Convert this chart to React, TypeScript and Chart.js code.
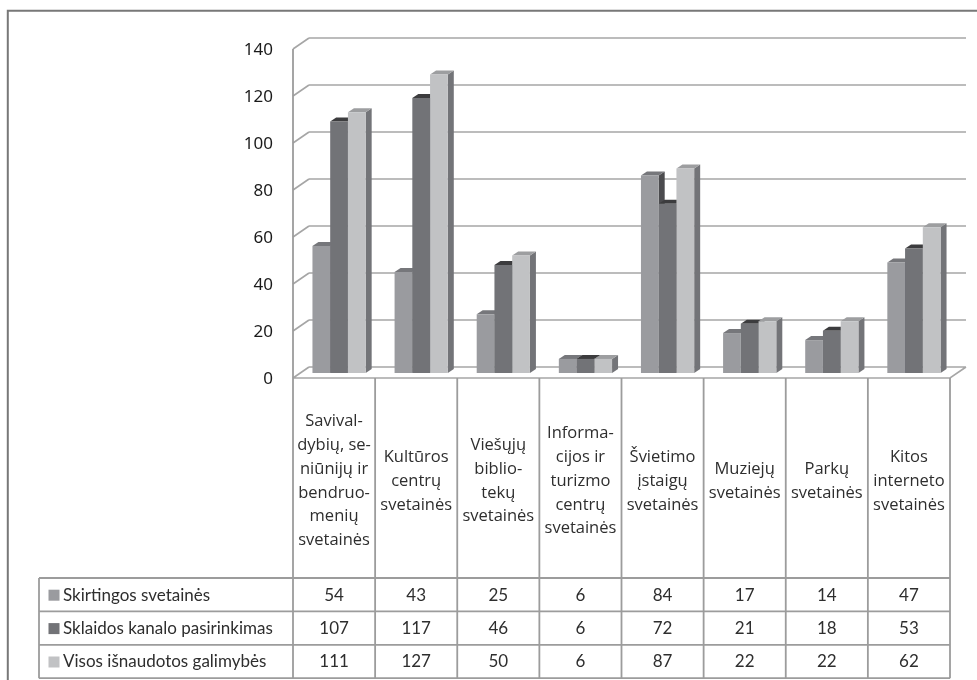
import React, { useEffect, useRef } from 'react';
import { Chart, registerables } from 'chart.js';

Chart.register(...registerables);

const categories: string[][] = [
  ['Savival-', 'dybių, se-', 'niūnijų ir', 'bendruo-', 'menių', 'svetainės'],
  ['Kultūros', 'centrų', 'svetainės'],
  ['Viešųjų', 'biblio-', 'tekų', 'svetainės'],
  ['Informa-', 'cijos ir', 'turizmo', 'centrų', 'svetainės'],
  ['Švietimo', 'įstaigų', 'svetainės'],
  ['Muziejų', 'svetainės'],
  ['Parkų', 'svetainės'],
  ['Kitos', 'interneto', 'svetainės'],
];

const seriesNames = ['Skirtingos svetainės', 'Sklaidos kanalo pasirinkimas', 'Visos išnaudotos galimybės'];
const skirtingos = [54, 43, 25, 6, 84, 17, 14, 47];
const sklaidos = [107, 117, 46, 6, 72, 21, 18, 53];
const visos = [111, 127, 50, 6, 87, 22, 22, 62];
const yTickValues = [0, 20, 40, 60, 80, 100, 120, 140];

const frontColors = ['#9a9b9f', '#727377', '#c1c2c4'];
const topColors = ['#76777b', '#3c3c3e', '#9d9ea0'];
const sideColors = ['#4b4b4e', '#48484b', '#737478'];

// 3D offsets (pixels)
const BAR_DX = 6;
const BAR_DY = 4;
const BACK_DX = 11;
const BACK_DY = -6;
const FRONT_DX = -5;
const FRONT_DY = 5;

const wallPlugin = {
  id: 'walls3d',
  beforeDatasetsDraw(chart: any) {
    const { ctx, chartArea: ca } = chart;
    const ys = chart.scales.y;
    ctx.save();
    ctx.strokeStyle = '#a6a6a6';
    ctx.lineWidth = 1.6;
    ctx.beginPath();
    for (const v of yTickValues) {
      const py = ys.getPixelForValue(v);
      ctx.moveTo(ca.left + BACK_DX, py + BACK_DY);
      ctx.lineTo(ca.right + BACK_DX, py + BACK_DY);
      ctx.moveTo(ca.left + FRONT_DX, py + FRONT_DY);
      ctx.lineTo(ca.left + BACK_DX, py + BACK_DY);
    }
    const base = ys.getPixelForValue(0);
    ctx.moveTo(ca.left + FRONT_DX, base + FRONT_DY);
    ctx.lineTo(ca.right + FRONT_DX, base + FRONT_DY);
    ctx.lineTo(ca.right + BACK_DX, base + BACK_DY);
    ctx.stroke();
    ctx.restore();

    // bar side and top faces, in spatial order
    ctx.save();
    const n = chart.data.labels.length;
    for (let i = 0; i < n; i++) {
      chart.data.datasets.forEach((_ds: any, d: number) => {
        const el = chart.getDatasetMeta(d).data[i];
        if (!el) return;
        const { x, y, base: b, width } = el.getProps(['x', 'y', 'base', 'width'], true);
        const l = x - width / 2;
        const r = x + width / 2;
        ctx.fillStyle = sideColors[d];
        ctx.beginPath();
        ctx.moveTo(r, y);
        ctx.lineTo(r + BAR_DX, y - BAR_DY);
        ctx.lineTo(r + BAR_DX, b - BAR_DY);
        ctx.lineTo(r, b);
        ctx.closePath();
        ctx.fill();
        ctx.fillStyle = topColors[d];
        ctx.beginPath();
        ctx.moveTo(l, y);
        ctx.lineTo(l + BAR_DX, y - BAR_DY);
        ctx.lineTo(r + BAR_DX, y - BAR_DY);
        ctx.lineTo(r, y);
        ctx.closePath();
        ctx.fill();
      });
    }
    ctx.restore();
  },
  afterDraw(chart: any) {
    const { ctx, chartArea: ca } = chart;
    const ys = chart.scales.y;
    const xs = chart.scales.x;
    const n = categories.length;
    const catW = (ca.right - ca.left) / n;
    const base = ys.getPixelForValue(0) + FRONT_DY;
    const headBottom = 578;
    const rowH = 33.4;
    const tableBottom = headBottom + rowH * 3;
    const legendLeft = 39;
    const colX = (j: number) => xs.getPixelForValue(0) - catW / 2 + FRONT_DX + j * catW;

    ctx.save();
    // outer frame
    ctx.strokeStyle = '#787878';
    ctx.lineWidth = 2;
    ctx.beginPath();
    ctx.moveTo(7.8, 680);
    ctx.lineTo(7.8, 10.8);
    ctx.lineTo(977, 10.8);
    ctx.stroke();

    // table lines
    ctx.strokeStyle = '#9c9c9c';
    ctx.lineWidth = 1.8;
    ctx.beginPath();
    for (let j = 0; j <= n; j++) {
      const x = colX(j);
      const top = j === 0 ? ys.getPixelForValue(140) + FRONT_DY : base;
      ctx.moveTo(x, top);
      ctx.lineTo(x, tableBottom);
    }
    ctx.moveTo(legendLeft, headBottom);
    ctx.lineTo(legendLeft, tableBottom);
    for (let r = 0; r <= 3; r++) {
      const y = headBottom + r * rowH;
      ctx.moveTo(legendLeft, y);
      ctx.lineTo(colX(n), y);
    }
    ctx.stroke();

    // header labels
    ctx.fillStyle = '#2e2e2e';
    ctx.textAlign = 'center';
    ctx.textBaseline = 'middle';
    ctx.font = '16.5px "Open Sans"';
    const lh = 23.8;
    const headCenter = 481;
    categories.forEach((lines, i) => {
      const cx = xs.getPixelForValue(i) + FRONT_DX;
      const y0 = headCenter - ((lines.length - 1) * lh) / 2;
      lines.forEach((t, k) => ctx.fillText(t, cx, y0 + k * lh));
    });

    // data rows
    const series = [skirtingos, sklaidos, visos];
    ctx.font = '17px Lato';
    series.forEach((vals, r) => {
      const cy = headBottom + r * rowH + rowH / 2 + 0.5;
      ctx.fillStyle = '#2e2e2e';
      ctx.textAlign = 'center';
      vals.forEach((v, i) => {
        const cx = xs.getPixelForValue(i) + FRONT_DX;
        ctx.fillText(String(v), cx, cy);
      });
      ctx.fillStyle = frontColors[r];
      ctx.fillRect(48.5, cy - 5.5, 11, 11);
      ctx.fillStyle = '#2e2e2e';
      ctx.textAlign = 'left';
      ctx.fillText(seriesNames[r], 63, cy);
    });
    ctx.restore();
  },
};

export default function App() {
  const ref = useRef<HTMLCanvasElement | null>(null);
  useEffect(() => {
    if (!ref.current) return;
    const chart = new Chart(ref.current, {
      type: 'bar',
      data: {
        labels: categories.map((c) => c.join(' ')),
        datasets: [
          { label: seriesNames[0], data: skirtingos, backgroundColor: frontColors[0] },
          { label: seriesNames[1], data: sklaidos, backgroundColor: frontColors[1] },
          { label: seriesNames[2], data: visos, backgroundColor: frontColors[2] },
        ],
      },
      options: {
        animation: false,
        responsive: false,
        devicePixelRatio: 1,
        layout: { padding: { left: 0, top: 44, right: 22, bottom: 307 } },
        datasets: { bar: { barPercentage: 1, categoryPercentage: 0.648, borderWidth: 0 } },
        plugins: { legend: { display: false }, tooltip: { enabled: false }, title: { display: false } },
        scales: {
          x: { display: false, grid: { display: false } },
          y: {
            min: 0,
            max: 140,
            afterFit: (s: any) => { s.width = 298; },
            afterBuildTicks: (s: any) => { s.ticks = yTickValues.map((v) => ({ value: v })); },
            grid: { display: false, drawTicks: false },
            border: { display: false },
            ticks: {
              padding: 25,
              labelOffset: 6.5,
              color: '#1a1a1a',
              font: { family: '"Noto Sans"', size: 17 },
            },
          },
        },
      },
      plugins: [wallPlugin],
    });
    return () => chart.destroy();
  }, []);
  return (
    <div style={{ position: 'absolute', left: 0, top: 0, width: 977, height: 680, background: '#ffffff' }}>
      <canvas ref={ref} width={977} height={680} style={{ display: 'block', width: 977, height: 680 }} />
    </div>
  );
}
